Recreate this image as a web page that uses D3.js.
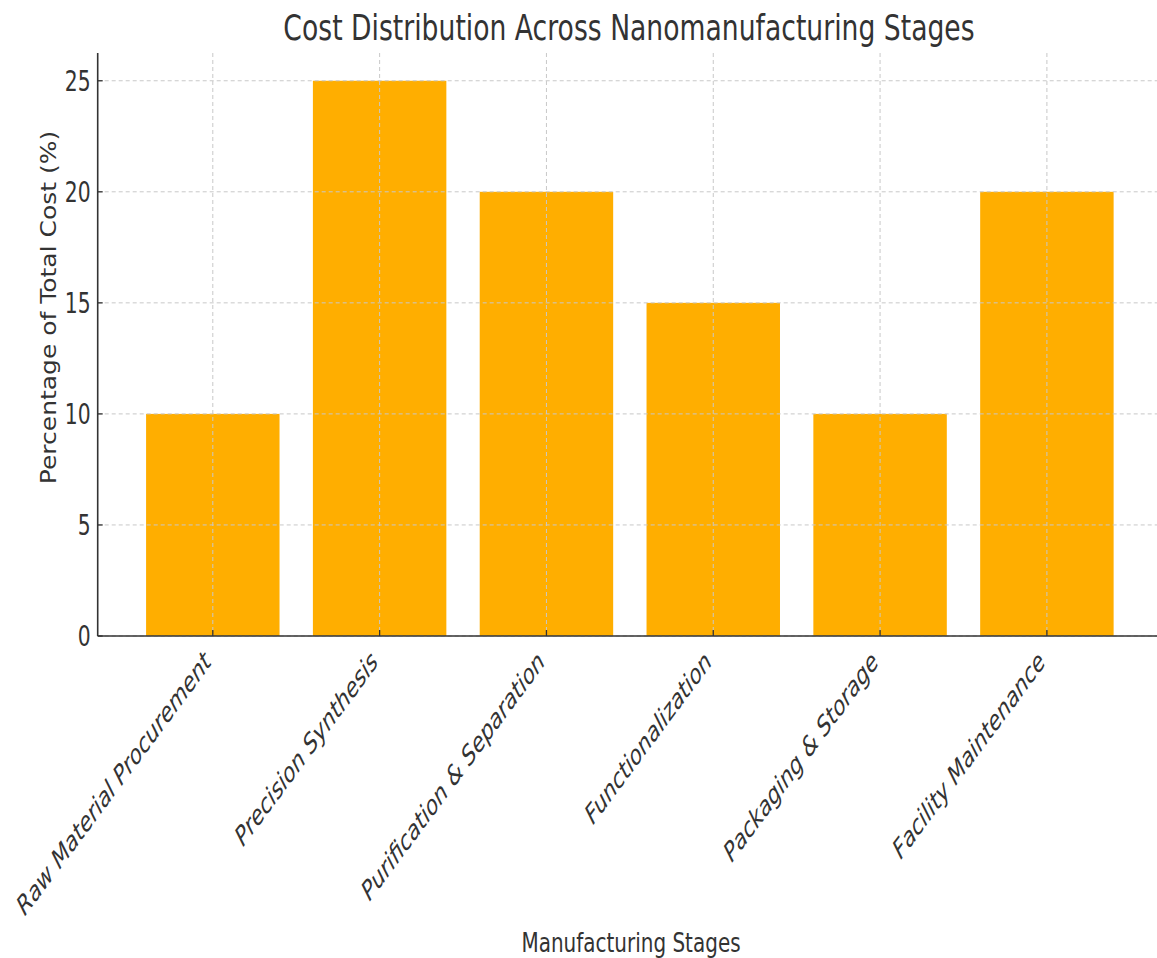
<!DOCTYPE html>
<html>
<head>
<meta charset="utf-8">
<script src="https://cdn.jsdelivr.net/npm/d3@7"></script>
<style>
  body { margin: 0; background: #fff; }
  text { font-family: "DejaVu Sans", sans-serif; fill: #333; }
</style>
</head>
<body>
<div id="chart"></div>
<script>
(function () {
"use strict";

// Chart data
var stages = [
  "Raw Material Procurement",
  "Precision Synthesis",
  "Purification & Separation",
  "Functionalization",
  "Packaging & Storage",
  "Facility Maintenance"
];
var costShare = [10, 25, 20, 15, 10, 20];
var yTicks = [0, 5, 10, 15, 20, 25];

var titleText = "Cost Distribution Across Nanomanufacturing Stages",
    xLabelText = "Manufacturing Stages",
    yLabelText = "Percentage of Total Cost (%)";

var fullWidth = 1157,
    fullHeight = 958;

// the picture is squeezed sideways, so text is squeezed too
var squeeze = 0.74;

var plot = { left: 97.7, right: 1162, top: 53, bottom: 636 };

// matplotlib-like band layout: bars of width 0.8 with 5% margins
var n = stages.length;
var xLin = d3.scaleLinear()
  .domain([-0.4 - 0.05 * (n - 0.2), n - 0.6 + 0.05 * (n - 0.2)])
  .range([plot.left, plot.right]);
var barWidth = xLin(0.8) - xLin(0);

var yScale = d3.scaleLinear()
  .domain([0, 25 * 1.05])
  .range([plot.bottom, plot.top]);

var svg = d3.select("#chart").append("svg")
  .attr("width", fullWidth)
  .attr("height", fullHeight)
  .attr("viewBox", "0 0 " + fullWidth + " " + fullHeight);

svg.append("rect")
  .attr("width", fullWidth)
  .attr("height", fullHeight)
  .style("fill", "#fff");

// Bars
svg.append("g")
  .selectAll("rect")
  .data(costShare)
  .enter()
  .append("rect")
    .attr("x", function(d, i) { return xLin(i) - barWidth / 2; })
    .attr("y", function(d) { return yScale(d); })
    .attr("width", barWidth)
    .attr("height", function(d) { return yScale(0) - yScale(d); })
    .style("fill", "#ffae00");

// Grid, drawn over the bars
var grid = svg.append("g")
  .style("stroke", "#c8c8c8")
  .style("stroke-width", 1)
  .style("stroke-dasharray", "4,3");

grid.selectAll(".hgrid")
  .data(yTicks)
  .enter()
  .append("line")
    .attr("class", "hgrid")
    .attr("x1", plot.left)
    .attr("x2", plot.right)
    .attr("y1", function(d) { return yScale(d); })
    .attr("y2", function(d) { return yScale(d); });

grid.selectAll(".vgrid")
  .data(stages)
  .enter()
  .append("line")
    .attr("class", "vgrid")
    .attr("x1", function(d, i) { return xLin(i); })
    .attr("x2", function(d, i) { return xLin(i); })
    .attr("y1", plot.top)
    .attr("y2", plot.bottom);

// Tick marks (pointing inwards)
var tickGroup = svg.append("g")
  .style("stroke", "#333")
  .style("stroke-width", 1.3);

tickGroup.selectAll(".ytick")
  .data(yTicks)
  .enter()
  .append("line")
    .attr("x1", plot.left)
    .attr("x2", plot.left + 5)
    .attr("y1", function(d) { return yScale(d); })
    .attr("y2", function(d) { return yScale(d); });

tickGroup.selectAll(".xtick")
  .data(stages)
  .enter()
  .append("line")
    .attr("x1", function(d, i) { return xLin(i); })
    .attr("x2", function(d, i) { return xLin(i); })
    .attr("y1", plot.bottom)
    .attr("y2", plot.bottom - 6);

// Spines
svg.append("line")
  .attr("x1", plot.left).attr("x2", plot.left)
  .attr("y1", plot.top).attr("y2", plot.bottom)
  .style("stroke", "#333")
  .style("stroke-width", 1.6);

svg.append("line")
  .attr("x1", plot.left).attr("x2", plot.right)
  .attr("y1", plot.bottom).attr("y2", plot.bottom)
  .style("stroke", "#333")
  .style("stroke-width", 1.6);

// Y tick labels
svg.append("g")
  .selectAll("text")
  .data(yTicks)
  .enter()
  .append("text")
    .attr("transform", function(d) {
      return "translate(" + (plot.left - 7) + "," + yScale(d) + ") scale(" + squeeze + ",1)";
    })
    .attr("dy", "0.36em")
    .style("text-anchor", "end")
    .style("font-size", "27.5px")
    .text(function(d) { return d; });

// X tick labels, rotated 45 degrees before the squeeze
svg.append("g")
  .selectAll("text")
  .data(stages)
  .enter()
  .append("text")
    .attr("transform", function(d, i) {
      return "translate(" + (xLin(i) - 11) + "," + (plot.bottom + 13) + ") scale(" + squeeze + ",1) rotate(-45)";
    })
    .attr("dy", "0.75em")
    .style("text-anchor", "end")
    .style("font-style", "italic")
    .style("font-size", "27px")
    .text(function(d) { return d; });

// Title
svg.append("text")
  .attr("transform", "translate(629,40) scale(" + squeeze + ",1)")
  .style("text-anchor", "middle")
  .style("font-size", "36px")
  .text(titleText);

// Axis labels
svg.append("text")
  .attr("transform", "translate(631,952) scale(" + squeeze + ",1)")
  .style("text-anchor", "middle")
  .style("font-size", "27px")
  .text(xLabelText);

svg.append("text")
  .attr("transform", "translate(56,307.5) scale(0.86,1) rotate(-90)")
  .style("text-anchor", "middle")
  .style("font-size", "25px")
  .text(yLabelText);

})();
</script>
</body>
</html>
